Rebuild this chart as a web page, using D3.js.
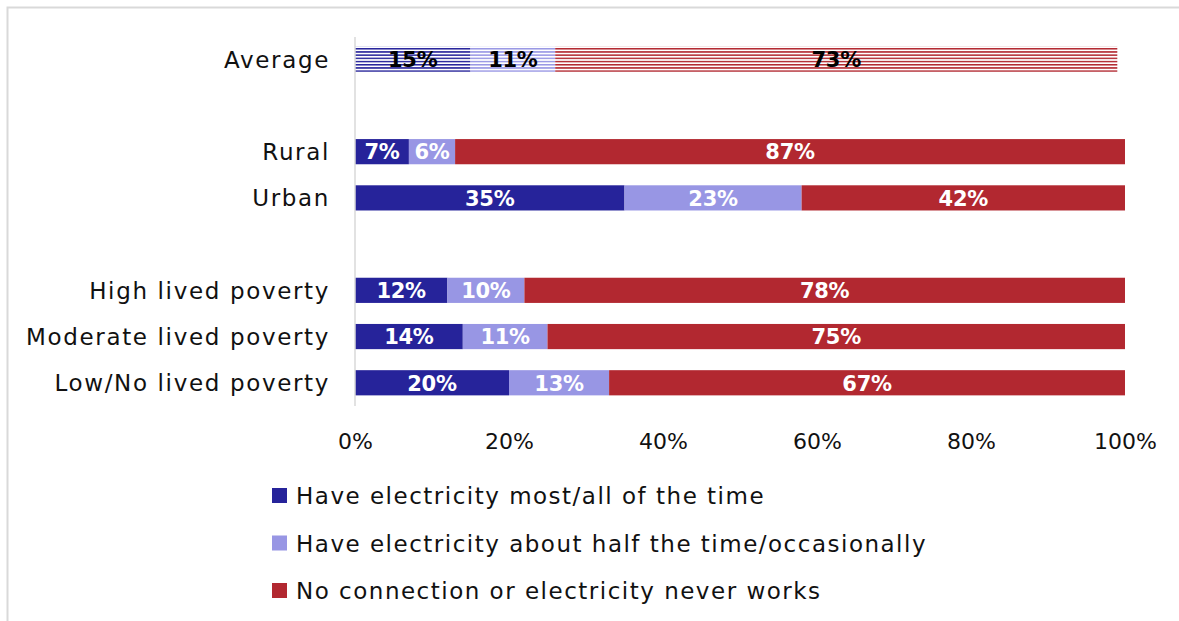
<!DOCTYPE html>
<html>
<head>
<meta charset="utf-8">
<script src="https://cdn.jsdelivr.net/npm/d3@7"></script>
<style>
  html, body { margin: 0; padding: 0; background: #fff; }
  svg { display: block; }
  text { font-family: "DejaVu Sans", "Open Sans", sans-serif; }
</style>
</head>
<body>
<svg id="chart" width="1179" height="621"></svg>
<script>
// Row order top to bottom; blank entries are spacer rows between groups
const categories = ["Average", "", "Rural", "Urban", " ", "High lived poverty", "Moderate lived poverty", "Low/No lived poverty"];
const seriesNames = [
  "Have electricity most/all of the time",
  "Have electricity about half the time/occasionally",
  "No connection or electricity never works"
];
const mostAll   = [15, null, 7, 35, null, 12, 14, 20];
const halfTime  = [11, null, 6, 23, null, 10, 11, 13];
const never     = [73, null, 87, 42, null, 78, 75, 67];
const tickValues = [0, 20, 40, 60, 80, 100];
const colors = ["#26239a", "#9896e4", "#b22830"];

const svg = d3.select("#chart");
const W = 1179, H = 621;

// light frame around the chart area
svg.append("rect")
  .attr("x", 7.5).attr("y", 7.5)
  .attr("width", W + 10).attr("height", H + 10)
  .attr("fill", "none").attr("stroke", "#d9d9d9").attr("stroke-width", 2);

const x = d3.scaleLinear().domain([0, 100]).range([355, 1125]);
const y = d3.scaleBand().domain(categories).range([36, 406]).paddingInner(0.455).paddingOuter(0.23);

// stripe patterns for the Average row
const defs = svg.append("defs");
colors.forEach((c, i) => {
  const p = defs.append("pattern")
    .attr("id", "stripe" + i)
    .attr("patternUnits", "userSpaceOnUse")
    .attr("width", 10).attr("height", 3.2);
  p.append("rect").attr("width", 10).attr("height", 3.2).attr("fill", "#fff");
  p.append("rect").attr("y", 0).attr("width", 10).attr("height", 1.5).attr("fill", c);
});

// stack data
const rows = categories.map((c, i) => ({ cat: c, vals: [mostAll[i], halfTime[i], never[i]] }))
  .filter(r => r.vals[0] !== null);

const barH = y.bandwidth();

rows.forEach(r => {
  let acc = 0;
  const isAvg = r.cat === "Average";
  r.vals.forEach((v, k) => {
    const x0 = x(acc), x1 = x(acc + v);
    const yy = y(r.cat);
    svg.append("rect")
      .attr("x", x0).attr("y", yy)
      .attr("width", x1 - x0).attr("height", barH)
      .attr("fill", isAvg ? `url(#stripe${k})` : colors[k]);
    svg.append("text")
      .attr("x", (x0 + x1) / 2)
      .attr("y", yy + barH / 2)
      .attr("dy", "0.37em")
      .attr("text-anchor", "middle")
      .attr("font-size", 21)
      .attr("font-weight", 700)
      .attr("letter-spacing", -0.3)
      .attr("fill", isAvg ? "#000" : "#fff")
      .text(v + "%");
    acc += v;
  });
});

// category axis line
svg.append("line")
  .attr("x1", 355).attr("x2", 355)
  .attr("y1", 37).attr("y2", 406)
  .attr("stroke", "#d9d9d9").attr("stroke-width", 1.5);

// category labels
svg.append("g").selectAll("text")
  .data(categories.filter(c => c.trim() !== ""))
  .join("text")
  .attr("x", 330)
  .attr("y", d => y(d) + barH / 2)
  .attr("dy", "0.36em")
  .attr("text-anchor", "end")
  .attr("font-size", 23)
  .attr("letter-spacing", 1.65)
  .attr("fill", "#111")
  .text(d => d);

// x-axis tick labels
const xAxis = d3.axisBottom(x).tickValues(tickValues).tickSize(0).tickFormat(d => d + "%");
const gx = svg.append("g").attr("transform", "translate(0,430)").call(xAxis);
gx.select(".domain").remove();
gx.selectAll("text")
  .attr("font-size", 22)
  .attr("fill", "#111")
  .style("font-family", '"DejaVu Sans", "Open Sans", sans-serif');

// legend
const legend = svg.append("g");
seriesNames.forEach((name, i) => {
  const ly = 496 + i * 47.5;
  legend.append("rect")
    .attr("x", 272).attr("y", ly - 8)
    .attr("width", 15).attr("height", 15)
    .attr("fill", colors[i]);
  legend.append("text")
    .attr("x", 296).attr("y", ly)
    .attr("dy", "0.36em")
    .attr("font-size", 23)
    .attr("letter-spacing", 1.5)
    .attr("fill", "#111")
    .text(name);
});
</script>
</body>
</html>
